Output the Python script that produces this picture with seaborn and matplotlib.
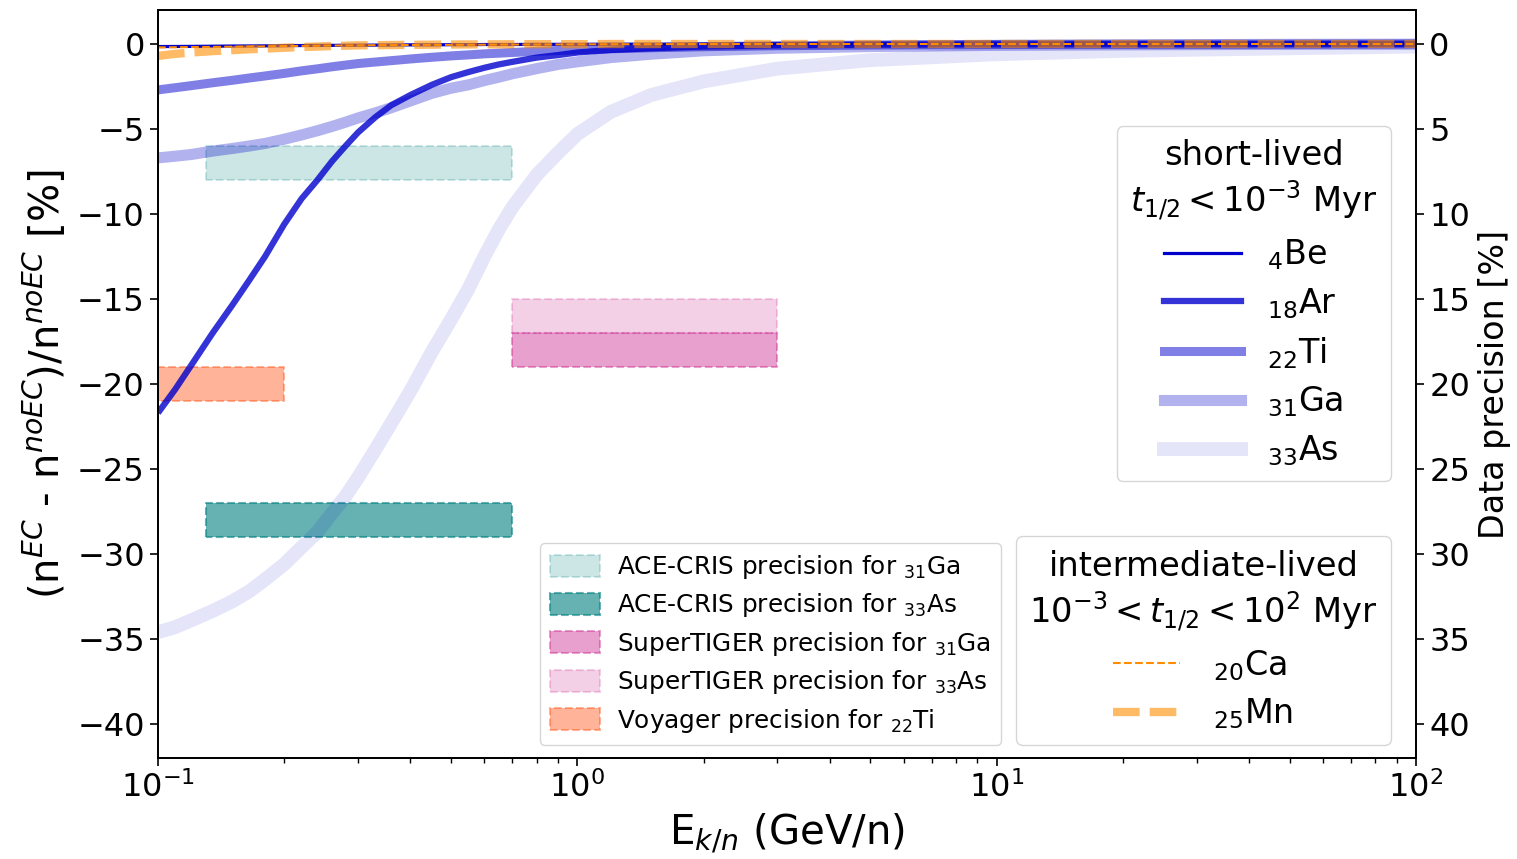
import numpy as np
import pandas as pd
import matplotlib
matplotlib.use("Agg")
import matplotlib.pyplot as plt
from matplotlib.patches import Patch
from matplotlib.lines import Line2D
import seaborn as sns

# ---------------- data ----------------
energy = [0.1, 0.11, 0.12, 0.135, 0.15, 0.165, 0.18, 0.2, 0.22, 0.24, 0.26, 0.28, 0.3,
          0.33, 0.36, 0.4, 0.45, 0.5, 0.55, 0.6, 0.65, 0.7, 0.8, 0.9, 1.0,
          1.2, 1.5, 2, 3, 5, 10, 20, 50, 100]

be_vals = [-0.15, -0.145, -0.14, -0.13, -0.12, -0.115, -0.11, -0.1, -0.09, -0.085, -0.08, -0.075, -0.07,
           -0.065, -0.06, -0.05, -0.05, -0.04, -0.04, -0.03, -0.03, -0.03, -0.02, -0.02, -0.02,
           -0.01, -0.01, 0, 0, 0, 0, 0, 0, 0]
ar_vals = [-21.7, -20.3, -18.9, -17.0, -15.4, -13.9, -12.5, -10.6, -9.1, -8.0, -6.9, -6.0, -5.2,
           -4.3, -3.6, -3.0, -2.4, -1.95, -1.65, -1.4, -1.2, -1.05, -0.8, -0.65, -0.5,
           -0.35, -0.25, -0.15, -0.08, -0.04, -0.02, -0.01, 0, 0]
ti_vals = [-2.7, -2.57, -2.45, -2.28, -2.14, -2.0, -1.88, -1.73, -1.58, -1.46, -1.34, -1.24, -1.15,
           -1.06, -0.98, -0.88, -0.78, -0.7, -0.64, -0.58, -0.54, -0.5, -0.43, -0.38, -0.34,
           -0.28, -0.22, -0.16, -0.1, -0.06, -0.03, -0.02, -0.01, 0]
ga_vals = [-6.7, -6.6, -6.5, -6.3, -6.15, -6.0, -5.85, -5.6, -5.35, -5.1, -4.85, -4.6, -4.35,
           -4.05, -3.75, -3.35, -2.9, -2.6, -2.4, -2.15, -1.95, -1.75, -1.45, -1.2, -1.05,
           -0.8, -0.6, -0.4, -0.25, -0.15, -0.08, -0.05, -0.02, -0.01]
as_vals = [-34.6, -34.3, -33.9, -33.35, -32.8, -32.2, -31.5, -30.6, -29.6, -28.7, -27.6, -26.6, -25.5,
           -23.85, -22.3, -20.4, -18.1, -16.2, -14.4, -12.5, -10.9, -9.6, -7.7, -6.4, -5.3,
           -4.0, -3.0, -2.2, -1.45, -0.95, -0.6, -0.4, -0.25, -0.15]
ca_vals = [-0.2, -0.19, -0.18, -0.17, -0.16, -0.15, -0.14, -0.12, -0.11, -0.1, -0.09, -0.085, -0.08,
           -0.07, -0.065, -0.06, -0.05, -0.05, -0.045, -0.04, -0.035, -0.03, -0.03, -0.025, -0.02,
           -0.015, -0.01, -0.005, 0, 0, 0, 0, 0, 0]
mn_vals = [-0.7, -0.58, -0.5, -0.42, -0.36, -0.31, -0.27, -0.22, -0.18, -0.15, -0.12, -0.1, -0.08,
           -0.07, -0.06, -0.05, -0.04, -0.03, -0.025, -0.02, -0.02, -0.015, -0.01, -0.01, -0.01,
           0, 0, 0, 0, 0, 0, 0, 0, 0]

short_labels = [r'$_{4}$Be', r'$_{18}$Ar', r'$_{22}$Ti', r'$_{31}$Ga', r'$_{33}$As']
short_series = [be_vals, ar_vals, ti_vals, ga_vals, as_vals]
inter_labels = [r'$_{20}$Ca', r'$_{25}$Mn']
inter_series = [ca_vals, mn_vals]

box_labels = [r'ACE-CRIS precision for $_{31}$Ga', r'ACE-CRIS precision for $_{33}$As',
              r'SuperTIGER precision for $_{31}$Ga', r'SuperTIGER precision for $_{33}$As',
              r'Voyager precision for $_{22}$Ti']
box_x0 = [0.13, 0.13, 0.7, 0.7, 0.1]
box_x1 = [0.7, 0.7, 3.0, 3.0, 0.2]
box_y0 = [-6, -27, -17, -15, -19]
box_y1 = [-8, -29, -19, -17, -21]

y_left_ticks = [0, -5, -10, -15, -20, -25, -30, -35, -40]
y_right_ticks = [0, 5, 10, 15, 20, 25, 30, 35, 40]

# ---------------- style ----------------
sns.set_style("ticks")
plt.rcParams['font.family'] = ['DejaVu Sans']
plt.rcParams.update({
    'axes.linewidth': 1.3, 'axes.edgecolor': 'black', 'text.color': 'black',
    'axes.labelcolor': 'black', 'xtick.color': 'black', 'ytick.color': 'black',
    'lines.solid_capstyle': 'projecting',
})

fig = plt.figure(figsize=(15.17, 8.59), dpi=100)
ax = fig.add_axes([158 / 1517, 1 - 758 / 859, (1416 - 158) / 1517, (758 - 10) / 859])

short_colors = ['mediumblue'] * 5
short_alpha = [1.0, 0.8, 0.5, 0.3, 0.1]
short_lw = [2.3, 4.5, 6.5, 8.0, 10.0]

short_handles = []
for vals, lab, c, a, lw in zip(short_series, short_labels, short_colors, short_alpha, short_lw):
    sns.lineplot(x=energy, y=vals, ax=ax, color=c, alpha=a, lw=lw, legend=False)
    ax.lines[-1].set_solid_capstyle('butt')
    short_handles.append(Line2D([], [], color=c, alpha=a, lw=lw, label=lab,
                                solid_capstyle='projecting'))

inter_colors = ['darkorange', 'darkorange']
inter_alpha = [1.0, 0.6]
inter_lw = [1.5, 6.0]
inter_dash = [(3.7, 1.6), (3.2, 1.2)]
inter_handles = []
for vals, lab, c, a, lw, d in zip(inter_series, inter_labels, inter_colors, inter_alpha, inter_lw, inter_dash):
    sns.lineplot(x=energy, y=vals, ax=ax, color=c, alpha=a, lw=lw, legend=False)
    ax.lines[-1].set_dashes(d)
    ax.lines[-1].set_dash_capstyle('butt')
    inter_handles.append(Line2D([], [], color=c, alpha=a, lw=lw, dashes=d, label=lab,
                                dash_capstyle='butt'))

box_colors = ['teal', 'teal', 'mediumvioletred', 'mediumvioletred', 'orangered']
box_alpha = [0.2, 0.6, 0.4, 0.2, 0.4]
box_handles = []
for lab, x0, x1, y0, y1, c, a in zip(box_labels, box_x0, box_x1, box_y0, box_y1, box_colors, box_alpha):
    ax.fill_between([x0, x1], [y0, y0], [y1, y1], facecolor=c, edgecolor=c, alpha=a,
                    linestyle='--', linewidth=1.5)
    box_handles.append(Patch(facecolor=c, edgecolor=c, alpha=a, linestyle='--', linewidth=1.5, label=lab))

ax.set_xscale('log')
ax.set_xlim(0.1, 100)
ax.set_ylim(-42, 2)
ax.set_yticks(y_left_ticks)
ax.set_yticklabels([str(t).replace('-', '−') for t in y_left_ticks])
ax.tick_params(axis='both', which='major', labelsize=23, length=6, width=1.2)
ax.tick_params(axis='x', which='minor', length=3.5, width=1.0)
ax.set_xlabel(r'E$_{k/n}$ (GeV/n)', fontsize=29, labelpad=5)
ax.set_ylabel(r'(n$^{EC}$ - n$^{noEC}$)/n$^{noEC}$ [%]', fontsize=29, labelpad=6)

ax2 = ax.twinx()
ax2.set_ylim(42, -2)
ax2.set_yticks(y_right_ticks)
ax2.tick_params(axis='y', labelsize=23, length=6, width=1.2)
ax2.set_ylabel('Data precision [%]', fontsize=24, labelpad=6)

leg1 = ax.legend(handles=short_handles, loc='upper right', bbox_to_anchor=(0.98, 0.845),
                 borderaxespad=0, fontsize=24, title='short-lived\n$t_{1/2} < 10^{-3}$ Myr',
                 title_fontsize=24.3, handlelength=2.3, labelspacing=0.42, handletextpad=0.8,
                 borderpad=0.4)
leg1.get_title().set_multialignment('center')
ax.add_artist(leg1)

leg2 = ax.legend(handles=inter_handles, loc='lower right', bbox_to_anchor=(0.98, 0.018),
                 borderaxespad=0, fontsize=24,
                 title='intermediate-lived\n$10^{-3} < t_{1/2} < 10^{2}$ Myr',
                 title_fontsize=24.3, handlelength=2.0, labelspacing=0.42, handletextpad=1.0,
                 borderpad=0.4)
leg2.get_title().set_multialignment('center')
ax.add_artist(leg2)

leg3 = ax.legend(handles=box_handles, loc='lower right', bbox_to_anchor=(0.67, 0.018),
                 borderaxespad=0, fontsize=17.8, handlelength=2.0, handleheight=1.0,
                 labelspacing=0.42, handletextpad=0.7, borderpad=0.4)

fig.savefig('out.png', dpi=100)
